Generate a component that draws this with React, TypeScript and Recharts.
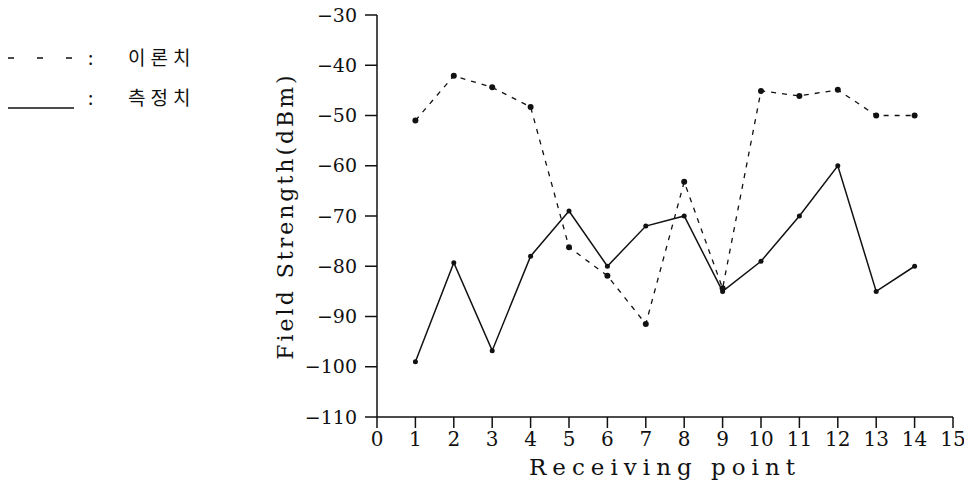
import { LineChart, Line, XAxis, YAxis } from "recharts";

// receiving points 1..14, field strength in dBm
const points = [1, 2, 3, 4, 5, 6, 7, 8, 9, 10, 11, 12, 13, 14];
const theory = [-51, -42.1, -44.4, -48.3, -76.2, -81.9, -91.5, -63.2, -84.4, -45.1, -46.1, -44.9, -50, -50];
const measured = [-99, -79.3, -96.8, -78, -69, -80, -72, -70, -85, -79, -70, -60, -85, -80];

const xTicks = [0, 1, 2, 3, 4, 5, 6, 7, 8, 9, 10, 11, 12, 13, 14, 15];
const yTicks = [-30, -40, -50, -60, -70, -80, -90, -100, -110];

const legendItems = [
  { label: "이론치", dashed: true },
  { label: "측정치", dashed: false },
];

const data = points.map((p, i) => ({ p, theory: theory[i], measured: measured[i] }));

const FONT = "'DejaVu Serif', serif";
const INK = "#111";

const fmtY = (v: number) => (v < 0 ? "\u2212" + Math.abs(v) : String(v));

export default function App() {
  return (
    <div style={{ position: "relative", width: 972, height: 489, margin: -8, background: "#fff" }}>
      <div style={{ position: "absolute", left: 0, top: 40, fontFamily: "'Noto Sans CJK KR', sans-serif", fontSize: 19, color: INK }}>
        {legendItems.map((it, i) => (
          <div key={it.label} style={{ position: "absolute", top: i * 40, left: 0, width: 220, height: 34 }}>
            <svg width={80} height={34} style={{ position: "absolute", left: 6, top: 0 }}>
              {it.dashed ? (
                <line x1={2} y1={18} x2={66} y2={18} stroke={INK} strokeWidth={1.5} strokeDasharray="6 23" />
              ) : (
                <line x1={2} y1={28} x2={68} y2={28} stroke={INK} strokeWidth={1.5} />
              )}
            </svg>
            <span style={{ position: "absolute", left: 88, top: 3 }}>:</span>
            <span style={{ position: "absolute", left: 128, top: 3, letterSpacing: 5, whiteSpace: "nowrap" }}>{it.label}</span>
          </div>
        ))}
      </div>
      <LineChart width={972} height={489} data={data} margin={{ top: 15, right: 19, bottom: 0, left: 277 }}>
        <XAxis
          dataKey="p"
          type="number"
          domain={[0, 15]}
          ticks={xTicks}
          interval={0}
          height={72}
          tickSize={11}
          tickMargin={4}
          axisLine={{ stroke: INK, strokeWidth: 1.5 }}
          tickLine={{ stroke: INK, strokeWidth: 1.5 }}
          tick={{ fill: INK, fontSize: 20, fontFamily: FONT }}
          label={{
            value: "Receiving point",
            position: "insideBottom",
            offset: 14,
            fill: INK,
            fontSize: 23,
            fontFamily: FONT,
            letterSpacing: 6,
          }}
        />
        <XAxis xAxisId="top" orientation="top" dataKey="p" type="number" domain={[0, 15]} height={0} tick={false} tickLine={false} axisLine={{ stroke: INK, strokeWidth: 1.5 }} />
        <YAxis
          type="number"
          domain={[-110, -30]}
          ticks={yTicks}
          interval={0}
          width={100}
          tickSize={12}
          tickMargin={8}
          tickFormatter={fmtY}
          axisLine={{ stroke: INK, strokeWidth: 1.5 }}
          tickLine={{ stroke: INK, strokeWidth: 1.5 }}
          tick={{ fill: INK, fontSize: 19, fontFamily: FONT }}
          label={{
            value: "Field Strength(dBm)",
            angle: -90,
            position: "insideLeft",
            offset: 8,
            fill: INK,
            fontSize: 22,
            fontFamily: FONT,
            letterSpacing: 3,
            style: { textAnchor: "middle" },
          }}
        />
        <YAxis yAxisId="right" orientation="right" domain={[-110, -30]} width={0} tick={false} tickLine={false} axisLine={{ stroke: INK, strokeWidth: 1.5 }} />
        <Line
          dataKey="theory"
          stroke={INK}
          strokeWidth={1.3}
          strokeDasharray="5 6"
          dot={{ r: 3, fill: INK, strokeWidth: 0 }}
          isAnimationActive={false}
        />
        <Line
          dataKey="measured"
          stroke={INK}
          strokeWidth={1.5}
          dot={{ r: 2.5, fill: INK, strokeWidth: 0 }}
          isAnimationActive={false}
        />
      </LineChart>
    </div>
  );
}
